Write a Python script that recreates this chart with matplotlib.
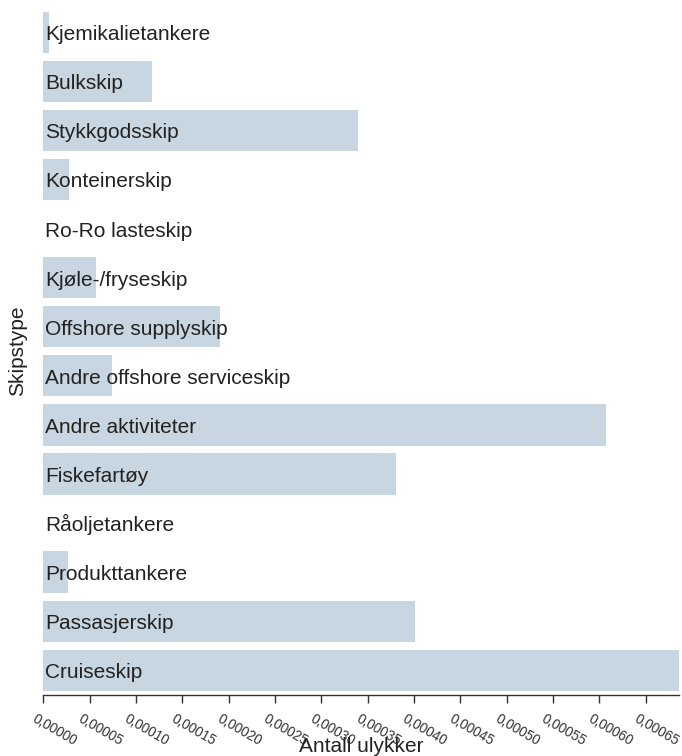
import matplotlib
matplotlib.use("Agg")
import matplotlib.pyplot as plt
import matplotlib.transforms as mtransforms
import numpy as np

plt.rcParams['font.family'] = ['Liberation Sans', 'DejaVu Sans']

# Accident rate per ship type
skipstyper = [
    "Kjemikalietankere",
    "Bulkskip",
    "Stykkgodsskip",
    "Konteinerskip",
    "Ro-Ro lasteskip",
    "Kjøle-/fryseskip",
    "Offshore supplyskip",
    "Andre offshore serviceskip",
    "Andre aktiviteter",
    "Fiskefartøy",
    "Råoljetankere",
    "Produkttankere",
    "Passasjerskip",
    "Cruiseskip",
]
ulykker = [
    0.0000065,
    0.0001172,
    0.000340,
    0.0000278,
    0.0,
    0.000057,
    0.0001902,
    0.0000746,
    0.000607,
    0.0003805,
    0.0,
    0.000027,
    0.000401,
    0.000686,
]
tick_values = [i * 0.00005 for i in range(14)]
tick_labels = [f"{v:.5f}".replace(".", ",") for v in tick_values]

W, H = 682, 756
fig = plt.figure(figsize=(W / 100, H / 100), dpi=100)
ax = fig.add_axes([43.3 / W, 1 - 694.7 / H, (679 - 43.3) / W, (694.7 - 8) / H])

y = np.arange(len(skipstyper))
ax.barh(y, ulykker, height=0.84, color="#c8d6e1", linewidth=0)

for yi, name in zip(y, skipstyper):
    ax.annotate(name, xy=(0, yi), xytext=(1.5, -5.6), textcoords="offset points",
                ha="left", va="baseline", fontsize=15, color="#222222")

ax.set_xlim(0, max(ulykker))
ax.set_ylim(len(skipstyper) - 0.5, -0.5)

for s in ["top", "right", "left"]:
    ax.spines[s].set_visible(False)
ax.spines["bottom"].set_color("#333333")
ax.spines["bottom"].set_linewidth(1.0)

ax.set_yticks([])
ax.set_xticks(tick_values)
ax.set_xticklabels(tick_labels, rotation=-30, rotation_mode="anchor",
                   ha="left", va="center", fontsize=9.8, color="#333333")
ax.tick_params(axis="x", length=6, width=1, color="#333333", pad=6)

# tick labels start a little left of their ticks
offset = mtransforms.ScaledTranslation(-10 / 100, -6 / 100, fig.dpi_scale_trans)
for lab in ax.get_xticklabels():
    lab.set_transform(lab.get_transform() + offset)

fig.text(361 / W, 4 / H, "Antall ulykker", ha="center", va="baseline",
         fontsize=15, color="#222222")
fig.text(18 / W, 1 - 351 / H, "Skipstype", ha="center", va="center",
         rotation=90, fontsize=15, color="#222222")

fig.savefig("out.png", dpi=100, facecolor="white")
